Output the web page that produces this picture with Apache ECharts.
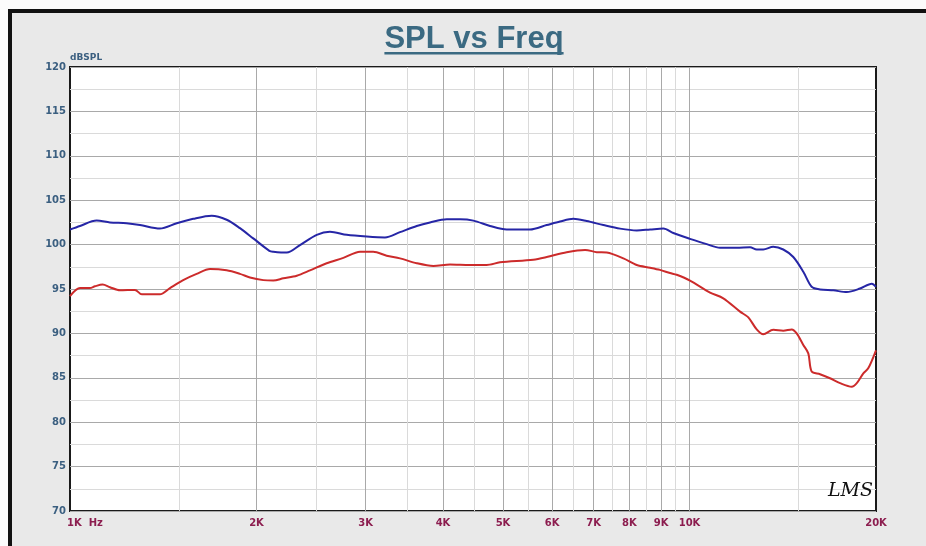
<!DOCTYPE html>
<html>
<head>
<meta charset="utf-8">
<script src="https://cdn.jsdelivr.net/npm/echarts@6/dist/echarts.min.js"></script>
<style>
  html, body { margin: 0; padding: 0; background: #fbfbfb; }
  #frame { position: absolute; left: 8px; top: 9px; width: 918px; height: 537px;
           border-top: 4px solid #111; border-left: 4px solid #111; background: #e9e9e9; box-sizing: border-box; }
  #chart { position: absolute; left: 0; top: 0; width: 926px; height: 546px; }
</style>
</head>
<body>
<div id="frame"></div>
<div id="chart"></div>
<script>
// ---- data ----
const blueFreq = [1000,1038,1104,1160,1234,1297,1397,1487,1581,1693,1790,1881,1976,2098,2129,2238,2351,2502,2628,2797,3013,3224,3409,3628,3812,4056,4262,4478,4764,5068,5527,5881,6180,6492,6823,7260,7725,8220,8637,9073,9416,10018,10661,11200,11920,12522,12837,13154,13651,14169,14707,15264,15746,16243,17067,17940,18847,19687,20000];
const blueSpl  = [101.7,102.1,102.7,102.5,102.4,102.2,101.8,102.4,102.9,103.25,102.8,101.85,100.7,99.3,99.2,99.1,99.95,101.1,101.45,101.1,100.9,100.8,101.4,102.1,102.5,102.85,102.85,102.7,102.1,101.7,101.7,102.2,102.6,102.9,102.65,102.2,101.8,101.6,101.7,101.8,101.3,100.65,100.05,99.65,99.65,99.7,99.45,99.45,99.75,99.45,98.6,96.95,95.25,94.95,94.85,94.65,95.05,95.6,95.25];
const redFreq  = [1000,1038,1077,1097,1129,1160,1204,1273,1306,1397,1450,1523,1601,1683,1790,1881,1952,2051,2129,2210,2323,2440,2596,2762,2939,3087,3244,3409,3628,3860,4106,4423,4705,4944,5596,5881,6335,6783,7083,7352,7821,8220,8637,8960,9301,9535,10018,10793,11338,12067,12443,12837,13154,13651,14169,14621,14894,15264,15551,15746,16243,16856,17500,18276,18620,19080,19440,20000];
const redSpl   = [94.2,95.1,95.1,95.3,95.5,95.2,94.85,94.9,94.4,94.4,95.1,96.0,96.7,97.25,97.1,96.7,96.3,96.0,95.95,96.2,96.5,97.1,97.9,98.5,99.2,99.2,98.75,98.45,97.9,97.6,97.75,97.7,97.7,98.0,98.3,98.6,99.15,99.4,99.15,99.1,98.45,97.7,97.4,97.15,96.8,96.6,95.95,94.6,93.95,92.45,91.8,90.45,89.9,90.4,90.3,90.45,90.0,88.7,87.75,85.7,85.4,84.95,84.4,84.0,84.4,85.5,86.1,88.1];
const xLabelValues = [1000,2000,3000,4000,5000,6000,7000,8000,9000,10000,20000];
const xGridValues  = [1500,2000,2500,3000,3500,4000,4500,5000,5500,6000,6500,7000,7500,8000,8500,9000,9500,10000,15000];
const yMin = 70, yMax = 120, yStep = 2.5;
const titleText = 'SPL vs Freq';
const yName = 'dBSPL';

const zip = (a, b) => a.map((v, i) => [v, b[i]]);

const chart = echarts.init(document.getElementById('chart'), null, { renderer: 'canvas' });

// measure title width for the underline
const cv = document.createElement('canvas').getContext('2d');
const titleFont = 'bold 31px "Liberation Sans", Arial, sans-serif';
cv.font = titleFont;
const tw = cv.measureText(titleText).width;
const titleCx = 474;

chart.setOption({
  backgroundColor: 'transparent',
  animation: false,
  grid: { left: 70, top: 67, width: 806, height: 444, show: true, backgroundColor: '#ffffff',
          borderColor: '#1a1a1a', borderWidth: 2 },
  xAxis: {
    type: 'log', logBase: 10, min: 1000, max: 20000,
    axisLine: { show: false },
    axisTick: { show: false, customValues: xGridValues },
    axisLabel: {
      customValues: xLabelValues,
      color: '#8c1d4f', fontWeight: 'bold', fontSize: 10, fontFamily: 'DejaVu Sans, sans-serif',
      margin: 7,
      formatter: v => v === 1000 ? '{a|1K  Hz}' : (v / 1000) + 'K',
      rich: { a: { padding: [0, 0, 0, 30], color: '#8c1d4f', fontWeight: 'bold', fontSize: 10, fontFamily: 'DejaVu Sans, sans-serif' } }
    },
    splitLine: { show: true, lineStyle: { color: ['#dadada', '#a9a9a9'], width: 1 } }
  },
  yAxis: {
    type: 'value', min: yMin, max: yMax, interval: yStep,
    name: yName, nameLocation: 'end', nameGap: 3,
    nameTextStyle: { align: 'left', color: '#3b5f80', fontWeight: 'bold', fontSize: 9, fontFamily: 'DejaVu Sans, sans-serif', padding: [0, 0, 0, 0] },
    axisLine: { show: false }, axisTick: { show: false },
    axisLabel: {
      color: '#3b5f80', fontWeight: 'bold', fontSize: 10, fontFamily: 'DejaVu Sans, sans-serif', margin: 4,
      formatter: v => (v % 5 === 0 ? String(v) : '')
    },
    splitLine: { show: true, lineStyle: { color: ['#a9a9a9', '#dadada'], width: 1 } }
  },
  graphic: [
    { type: 'text', left: titleCx - tw / 2, top: 24, z: 10,
      style: { text: titleText, font: titleFont, fill: '#3b6a82' } },
    { type: 'rect', shape: { x: titleCx - tw / 2, y: 52, width: tw, height: 2.5 }, z: 10,
      style: { fill: '#3b6a82' } },
    { type: 'text', left: 828, top: 482, z: 10,
      style: { text: 'LMS', font: 'italic 19px "DejaVu Serif", serif', fill: '#111', letterSpacing: 1 } }
  ],
  series: [
    { type: 'line', name: 'blue', data: zip(blueFreq, blueSpl), showSymbol: false, smooth: 0.3,
      lineStyle: { color: '#2626a6', width: 2 }, z: 3 },
    { type: 'line', name: 'red', data: zip(redFreq, redSpl), showSymbol: false, smooth: 0.3,
      lineStyle: { color: '#cc2b2b', width: 2 }, z: 3 }
  ]
});
</script>
</body>
</html>
